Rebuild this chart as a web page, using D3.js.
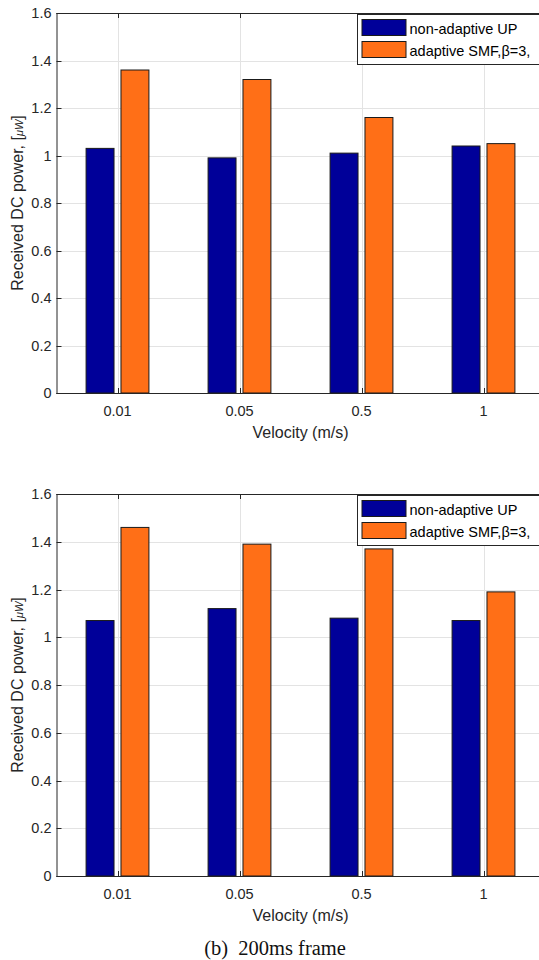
<!DOCTYPE html>
<html><head><meta charset="utf-8">
<script src="https://cdn.jsdelivr.net/npm/d3@7/dist/d3.min.js"></script>
<style>html,body{margin:0;padding:0;background:#fff;overflow:hidden}</style>
</head><body>
<script>
const categories = ["0.01", "0.05", "0.5", "1"];
const seriesNames = ["non-adaptive UP", "adaptive SMF,\u03B2=3,"];
const topNonAdaptive = [1.03, 0.99, 1.01, 1.04];
const topAdaptive = [1.36, 1.32, 1.16, 1.05];
const bottomNonAdaptive = [1.07, 1.12, 1.08, 1.07];
const bottomAdaptive = [1.46, 1.39, 1.37, 1.19];
const yTicks = [0, 0.2, 0.4, 0.6, 0.8, 1, 1.2, 1.4, 1.6];
const yTickLabels = ["0", "0.2", "0.4", "0.6", "0.8", "1", "1.2", "1.4", "1.6"];
const xLabel = "Velocity (m/s)";
const captionB = "(b)  200ms frame";

const colors = ["#000099", "#FF6F17"];
const W = 539, H = 960;
const svg = d3.select("body").append("svg").attr("width", W).attr("height", H)
  .style("font-family", "'Liberation Sans', Arial, sans-serif");

const x = d3.scaleLinear().domain([0.5, 4.5]).range([56.5, 544.5]);
const barOff = 0.143, barW = 0.229;

function panel(yTop, yBot, s1, s2) {
  const g = svg.append("g");
  const y = d3.scaleLinear().domain([0, 1.6]).range([yBot, yTop]);
  const x0 = x(0.5), x1 = x(4.5);
  g.selectAll(".gy").data(yTicks).enter().append("line")
    .attr("x1", x0).attr("x2", x1).attr("y1", d => Math.round(y(d)) + 0.5).attr("y2", d => Math.round(y(d)) + 0.5)
    .attr("stroke", "#e3e3e3").attr("stroke-width", 1);
  g.selectAll(".gx").data(categories).enter().append("line")
    .attr("x1", (d, i) => Math.round(x(i + 1)) + 0.5).attr("x2", (d, i) => Math.round(x(i + 1)) + 0.5)
    .attr("y1", yTop).attr("y2", yBot)
    .attr("stroke", "#e3e3e3").attr("stroke-width", 1);
  [s1, s2].forEach((vals, si) => {
    const off = si === 0 ? -barOff : barOff;
    g.selectAll(".b" + si).data(vals).enter().append("rect")
      .attr("x", (d, i) => x(i + 1 + off - barW / 2))
      .attr("width", x(barW) - x(0))
      .attr("y", d => y(d))
      .attr("height", d => y(0) - y(d))
      .attr("fill", colors[si])
      .attr("stroke", "#1a1a1a").attr("stroke-width", 1);
  });
  const ac = "#262626";
  g.append("line").attr("x1", x0).attr("x2", x1).attr("y1", yBot + 0.5).attr("y2", yBot + 0.5).attr("stroke", ac);
  g.append("line").attr("x1", x0).attr("x2", x1).attr("y1", yTop + 0.5).attr("y2", yTop + 0.5).attr("stroke", ac);
  g.append("line").attr("x1", x0 + 0.5).attr("x2", x0 + 0.5).attr("y1", yTop).attr("y2", yBot + 1).attr("stroke", ac);
  yTicks.forEach(t => {
    const yy = Math.round(y(t)) + 0.5;
    g.append("line").attr("x1", x0).attr("x2", x0 + 5).attr("y1", yy).attr("y2", yy).attr("stroke", ac);
    g.append("line").attr("x1", x1 - 5).attr("x2", x1).attr("y1", yy).attr("y2", yy).attr("stroke", ac);
  });
  categories.forEach((c, i) => {
    const xx = Math.round(x(i + 1)) + 0.5;
    g.append("line").attr("x1", xx).attr("x2", xx).attr("y1", yBot).attr("y2", yBot - 5).attr("stroke", ac);
    g.append("line").attr("x1", xx).attr("x2", xx).attr("y1", yTop).attr("y2", yTop + 5).attr("stroke", ac);
  });
  g.selectAll(".yl").data(yTicks).enter().append("text")
    .attr("x", x0 - 5).attr("y", d => y(d)).attr("dy", "0.36em")
    .attr("text-anchor", "end").attr("font-size", 14.5).attr("fill", ac)
    .text((d, i) => yTickLabels[i]);
  g.selectAll(".xl").data(categories).enter().append("text")
    .attr("x", (d, i) => x(i + 1)).attr("y", yBot + 23)
    .attr("text-anchor", "middle").attr("font-size", 14.5).attr("fill", ac)
    .text(d => d);
  g.append("text").attr("x", x(2.5)).attr("y", yBot + 45)
    .attr("text-anchor", "middle").attr("font-size", 16).attr("fill", ac).text(xLabel);
  const yl = g.append("text")
    .attr("transform", `translate(23,${(yTop + yBot) / 2}) rotate(-90)`)
    .attr("text-anchor", "middle").attr("font-size", 16).attr("fill", ac);
  yl.append("tspan").text("Received DC power, [");
  yl.append("tspan").attr("font-style", "italic").attr("font-size", 11).text("\u03BCW");
  yl.append("tspan").text("]");
  const lx = 357.5, ly = yTop + 1.5;
  g.append("rect").attr("x", lx).attr("y", ly).attr("width", 200).attr("height", 50)
    .attr("fill", "#fff").attr("stroke", ac).attr("stroke-width", 1);
  seriesNames.forEach((n, i) => {
    g.append("rect").attr("x", lx + 4.5).attr("y", ly + 5 + i * 22).attr("width", 44).attr("height", 16)
      .attr("fill", colors[i]).attr("stroke", "#1a1a1a");
    g.append("text").attr("x", lx + 52).attr("y", ly + 14 + i * 22).attr("dy", "0.36em")
      .attr("font-size", 14.5).attr("fill", "#000").text(n);
  });
}

panel(13, 393, topNonAdaptive, topAdaptive);
panel(494, 876, bottomNonAdaptive, bottomAdaptive);

svg.append("text").attr("x", 275).attr("y", 955).attr("text-anchor", "middle")
  .attr("font-family", "'Liberation Serif', 'Times New Roman', serif").attr("font-size", 20.5)
  .attr("fill", "#111").attr("xml:space", "preserve").style("white-space", "pre").text(captionB);
</script>
</body></html>
